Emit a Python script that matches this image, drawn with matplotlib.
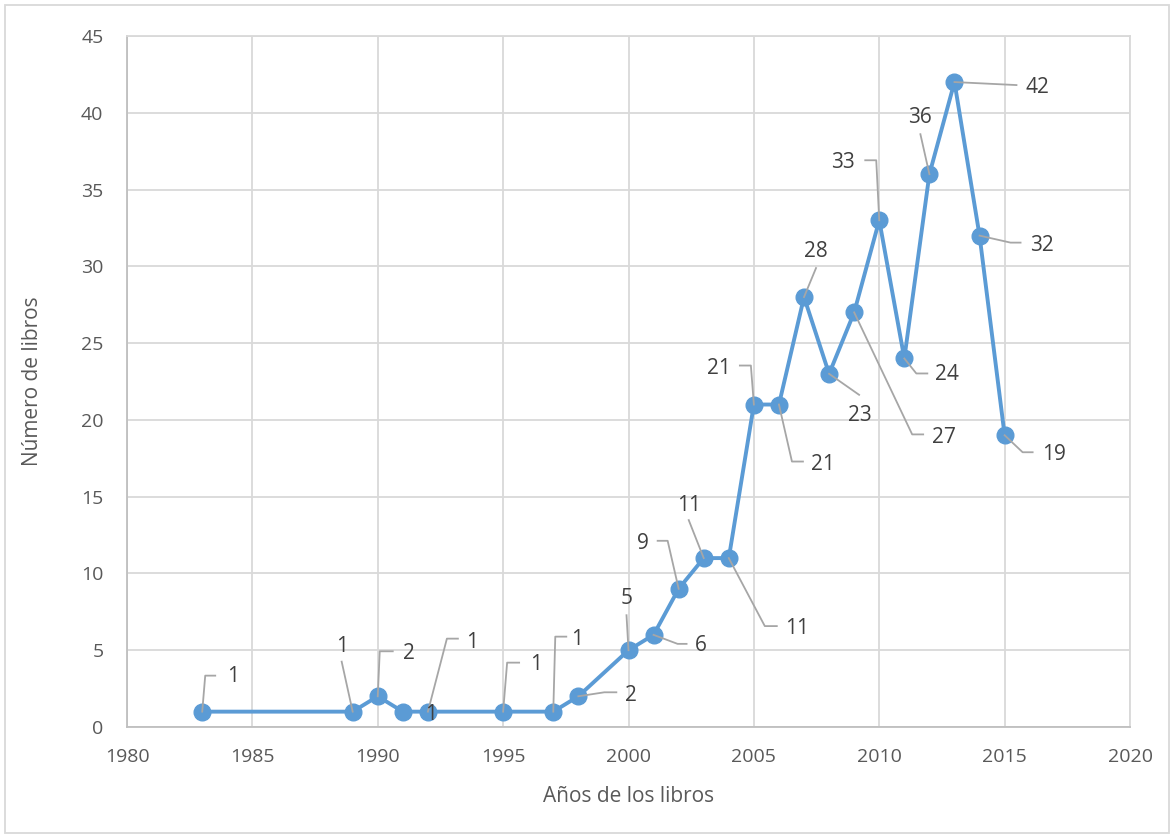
import numpy as np
import matplotlib.pyplot as plt
from matplotlib.lines import Line2D
from matplotlib.patches import Rectangle
from matplotlib.transforms import IdentityTransform

plt.rcParams['font.family'] = ['Open Sans', 'DejaVu Sans']

# datos
anios = [1983, 1989, 1990, 1991, 1992, 1995, 1997, 1998, 2000, 2001, 2002, 2003,
         2004, 2005, 2006, 2007, 2008, 2009, 2010, 2011, 2012, 2013, 2014, 2015]
libros = [1, 1, 2, 1, 1, 1, 1, 2, 5, 6, 9, 11,
          11, 21, 21, 28, 23, 27, 33, 24, 36, 42, 32, 19]

# posicion de etiquetas (pixeles, y hacia abajo) y lineas guia
etiq_off = [(31, -35), (-11, -65), (31, -43), (28, 3), (44, -69), (33, -47),
            (24, -72), (53, -1), (-2, -52), (47, 11), (-36, -45), (-15, -53),
            (68, 70), (-35, -36), (44, 60), (12, -46), (31, 42), (90, 125),
            (-36, -58), (43, 16), (-9, -57), (83, 5), (62, 10), (49, 19)]
guias = [[(3, -36), (13, -36)], [(-11, -50)], [(2, -45), (15, -45)], None,
         [(19, -73), (30, -73)], [(4, -49), (16, -49)], [(2, -75), (13, -75)],
         [(26, -4), (38, -4)], [(-2, -35)], [(24, 9), (33, 9)],
         [(-11, -48), (-21, -48)], [(-15, -38)], [(36, 68), (48, 68)],
         [(-3, -39), (-14, -39)], [(13, 57), (24, 57)], [(12, -29)], [(30, 21)],
         [(58, 122), (69, 122)], [(-3, -60), (-14, -60)], [(12, 15), (23, 15)],
         [(-9, -40)], [(62, 3)], [(31, 7), (41, 7)], [(18, 17), (28, 17)]]

W, H = 1174, 838
fig = plt.figure(figsize=(W / 100, H / 100), dpi=100)
ax = fig.add_axes([127 / W, 1 - 727 / H, (1130 - 127) / W, (727 - 36) / H])

azul = '#5B9BD5'
gris_txt = '#404040'
gris_grid = '#D9D9D9'

ax.plot(anios, libros, color=azul, linewidth=2.8, marker='o', markersize=12,
        zorder=4)

ax.set_xlim(1980, 2020)
ax.set_ylim(0, 45)
ax.set_xticks(np.arange(1980, 2021, 5))
ax.set_yticks(np.arange(0, 46, 5))
ax.grid(True, color=gris_grid, linewidth=1.3)
ax.set_axisbelow(True)
for s in ax.spines.values():
    s.set_color(gris_grid)
    s.set_linewidth(1.3)
ax.spines['left'].set_color('#BFBFBF')
ax.spines['bottom'].set_color('#BFBFBF')
ax.tick_params(length=0, labelsize=14, labelcolor='#595959', pad=17)
ax.tick_params(axis='x', pad=15)

ax.set_xlabel('Años de los libros', fontsize=15, color='#595959')
ax.set_ylabel('Número de libros', fontsize=15, color='#595959')
ax.xaxis.set_label_coords(0.5, -0.101)
ax.yaxis.set_label_coords(-0.094, 0.5)
ax.xaxis.label.set_va('center')
ax.yaxis.label.set_va('center')

# etiquetas de datos con lineas guia
for x, y, (dx, dy), g in zip(anios, libros, etiq_off, guias):
    px, py = ax.transData.transform((x, y))
    if g is not None:
        xs = [px] + [px + gx for gx, gy in g]
        ys = [py] + [py - gy for gx, gy in g]
        fig.add_artist(Line2D(xs, ys, transform=IdentityTransform(),
                              color='#A6A6A6', linewidth=1.3, zorder=3))
    fig.text(px + dx, py - dy, str(y), transform=IdentityTransform(),
             ha='center', va='center', fontsize=15, color=gris_txt, zorder=6)

# borde exterior
fig.add_artist(Rectangle((5 / W, 5 / H), 1 - 10 / W, 1 - 10 / H,
                         transform=fig.transFigure, fill=False,
                         edgecolor='#D9D9D9', linewidth=1.3))

fig.savefig('out.png', dpi=100)
